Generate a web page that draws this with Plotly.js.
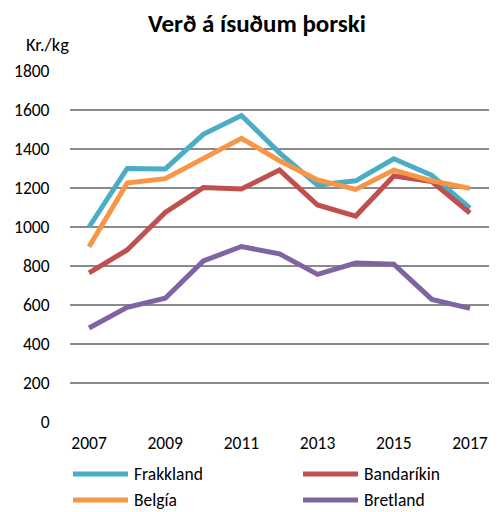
<!DOCTYPE html>
<html>
<head>
<meta charset="utf-8">
<script src="https://cdn.plot.ly/plotly-3.0.1.min.js"></script>
<style>html,body{margin:0;padding:0;background:#fff;}</style>
</head>
<body>
<div id="chart" style="width:501px;height:512px;"></div>
<script>
const years = [2007, 2008, 2009, 2010, 2011, 2012, 2013, 2014, 2015, 2016, 2017];
const frakkland = [1000, 1300, 1298, 1475, 1572, 1380, 1215, 1237, 1350, 1265, 1097];
const bandarikin = [765, 882, 1075, 1202, 1195, 1292, 1113, 1056, 1262, 1233, 1072];
const belgia = [899, 1225, 1248, 1352, 1455, 1340, 1241, 1193, 1292, 1237, 1198];
const bretland = [482, 588, 635, 826, 900, 862, 757, 815, 809, 629, 583];
const seriesNames = ['Frakkland', 'Bandaríkin', 'Belgía', 'Bretland'];
const seriesColors = ['#4BACC6', '#C0504D', '#F79646', '#8064A2'];
const xTicks = [2007, 2009, 2011, 2013, 2015, 2017];
const yTicks = [0, 200, 400, 600, 800, 1000, 1200, 1400, 1600, 1800];

const FONT = "Carlito, Calibri, Lato, 'Open Sans', sans-serif";
const values = [frakkland, bandarikin, belgia, bretland];
const data = values.map((v, i) => ({
  x: years, y: v, name: seriesNames[i], type: 'scatter', mode: 'lines',
  line: {color: seriesColors[i], width: 5}
}));

// manual two-column legend (paper coordinates from pixel layout)
const L = 70, W = 419, B = 422, H = 351;
const px = p => (p - L) / W, py = p => (B - p) / H;
const shapes = [], annotations = [];
seriesNames.forEach((n, i) => {
  const col = i % 2, row = Math.floor(i / 2);
  const x0 = 73 + col * 230, yy = 474 + row * 26;
  shapes.push({type: 'line', xref: 'paper', yref: 'paper', x0: px(x0), x1: px(x0 + 55), y0: py(yy), y1: py(yy),
               line: {color: seriesColors[i], width: 5}, layer: 'above'});
  annotations.push({text: n, xref: 'paper', yref: 'paper', x: px(x0 + 59), y: py(yy), xanchor: 'left', yanchor: 'middle',
                    showarrow: false, font: {family: FONT, size: 17.5, color: '#000'}});
});
annotations.push({text: 'Kr./kg', xref: 'paper', yref: 'paper', x: px(24), y: py(44),
                  xanchor: 'left', yanchor: 'middle', showarrow: false, font: {family: FONT, size: 18.5, color: '#000'}});

const layout = {
  width: 501, height: 512,
  margin: {l: 70, r: 12, t: 71, b: 90, autoexpand: false},
  paper_bgcolor: '#fff', plot_bgcolor: '#fff',
  font: {family: FONT, size: 17, color: '#000'},
  title: {text: '<b>Verð á ísuðum þorski</b>', font: {family: FONT, size: 25, color: '#000'},
          x: 257 / 501, xanchor: 'center', y: 0.955, yanchor: 'middle', xref: 'container'},
  xaxis: {range: [2006.5, 2017.5], tickvals: xTicks, ticktext: xTicks.map(String),
          showgrid: false, zeroline: false, showline: false, ticks: 'outside', ticklen: 5,
          tickcolor: 'rgba(0,0,0,0)', fixedrange: true, automargin: false, tickfont: {size: 17.5}},
  yaxis: {range: [0, 1800], tickvals: yTicks, showgrid: true, gridcolor: '#8a8a8a', gridwidth: 1.5,
          zeroline: false, showline: false, ticks: 'outside', ticklen: 16, tickcolor: 'rgba(0,0,0,0)',
          fixedrange: true, automargin: false, tickfont: {size: 17.5}},
  showlegend: false,
  shapes: shapes,
  annotations: annotations
};
Plotly.newPlot('chart', data, layout, {displayModeBar: false, staticPlot: true});
</script>
</body>
</html>
